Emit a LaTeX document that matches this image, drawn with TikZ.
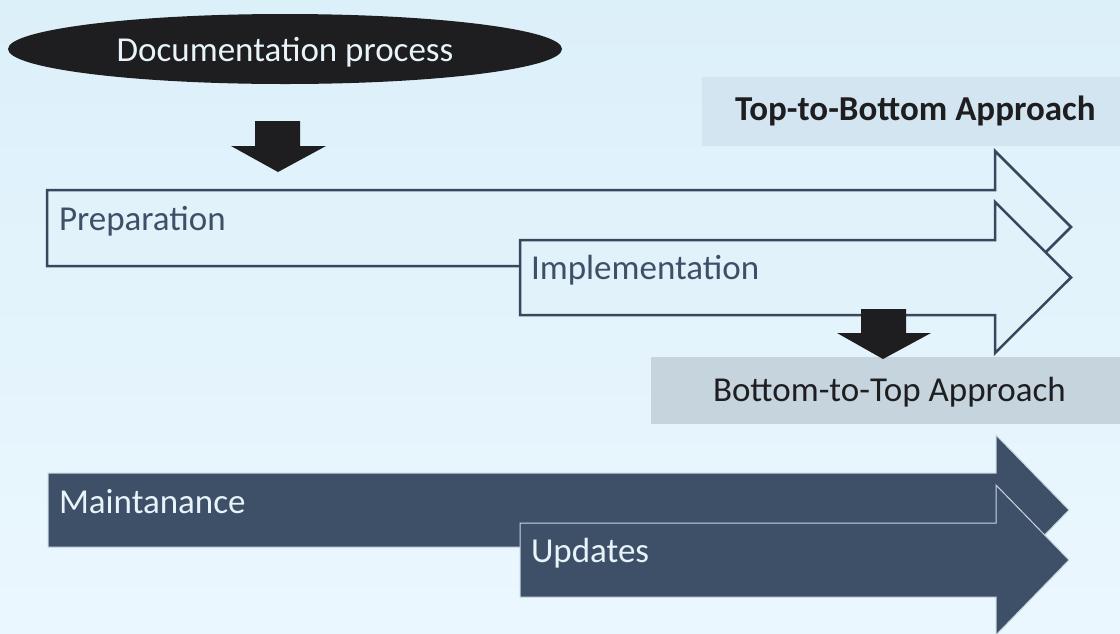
\documentclass[tikz,border=0pt]{standalone}
\usepackage{fontspec}
\setmainfont{Carlito}
\usetikzlibrary{shapes.geometric}
\definecolor{bgtop}{HTML}{DCF0FA}
\definecolor{bgbot}{HTML}{EBF7FE}
\definecolor{slate}{HTML}{3E5068}
\definecolor{edge}{HTML}{38475D}
\definecolor{ink}{HTML}{1E1E20}
\definecolor{boxa}{HTML}{D3E5F0}
\definecolor{boxb}{HTML}{C5D4DD}
\definecolor{paper}{HTML}{E1F2FB}
\definecolor{rim}{HTML}{C9D6DF}
\definecolor{light}{HTML}{E8F4FA}
\tikzset{
  txt/.style={font=\fontsize{35}{42}\selectfont, inner sep=0pt, outer sep=0pt},
  outlinearrow/.style={draw=edge, line width=2.5pt, fill=paper, line join=miter},
  darkarrow/.style={draw=rim, line width=1pt, fill=slate, line join=miter},
  downarrow/.style={fill=ink},
  bandbox/.style={inner sep=0pt, outer sep=0pt, anchor=north west}
}
\begin{document}
\begin{tikzpicture}[x=1pt,y=-1pt]
\useasboundingbox (0,0) rectangle (1120,633);
\shade[top color=bgtop, bottom color=bgbot] (0,0) rectangle (1120,633);

% Top-to-Bottom band
\node[bandbox, fill=boxa, minimum width=418pt, minimum height=69pt] (tbbox) at (702,77) {};
\node[txt, anchor=base west, text=ink, font=\fontsize{35}{42}\selectfont\bfseries] (tbtext) at (735,120) {Top-to-Bottom Approach};

% outline arrows
\path[outlinearrow] (47,190) -- (995,190) -- (995,151) -- (1071,227) -- (995,303) -- (995,266) -- (47,266) -- cycle;
\path[outlinearrow] (520,240) -- (995,240) -- (995,202) -- (1071,277.5) -- (995,353) -- (995,315) -- (520,315) -- cycle;
\node[txt, anchor=base west, text=slate] (prep) at (59,230) {Preparation};
\node[txt, anchor=base west, text=slate] (impl) at (531,279) {Implementation};

% Bottom-to-Top band
\node[bandbox, fill=boxb, minimum width=469pt, minimum height=67pt] (btbox) at (651,357) {};
\node[txt, anchor=base west, text=ink] (bttext) at (713,401) {Bottom-to-Top Approach};

% small down arrow 2
\path[downarrow] (861,309) -- (906,309) -- (906,333) -- (931,333) -- (883,359) -- (837,333) -- (861,333) -- cycle;

% dark arrows
\path[darkarrow] (48,473) -- (996,473) -- (996,435) -- (1069,510) -- (996,585) -- (996,547) -- (48,547) -- cycle;
\path[darkarrow] (520,523) -- (996,523) -- (996,485) -- (1069,560) -- (996,635) -- (996,597) -- (520,597) -- cycle;
\node[txt, anchor=base west, text=light] (maint) at (59,513) {Maintanance};
\node[txt, anchor=base west, text=light] (upd) at (531,562) {Updates};

% ellipse
\node[ellipse, fill=ink, minimum width=554pt, minimum height=70pt, inner sep=0pt] (doc) at (285,49) {};
\node[txt, anchor=base, text=light] (doctext) at (285,61) {Documentation process};

% small down arrow 1
\path[downarrow] (255,121) -- (300,121) -- (300,146) -- (326,146) -- (278,172) -- (231,146) -- (255,146) -- cycle;
\end{tikzpicture}
\end{document}
